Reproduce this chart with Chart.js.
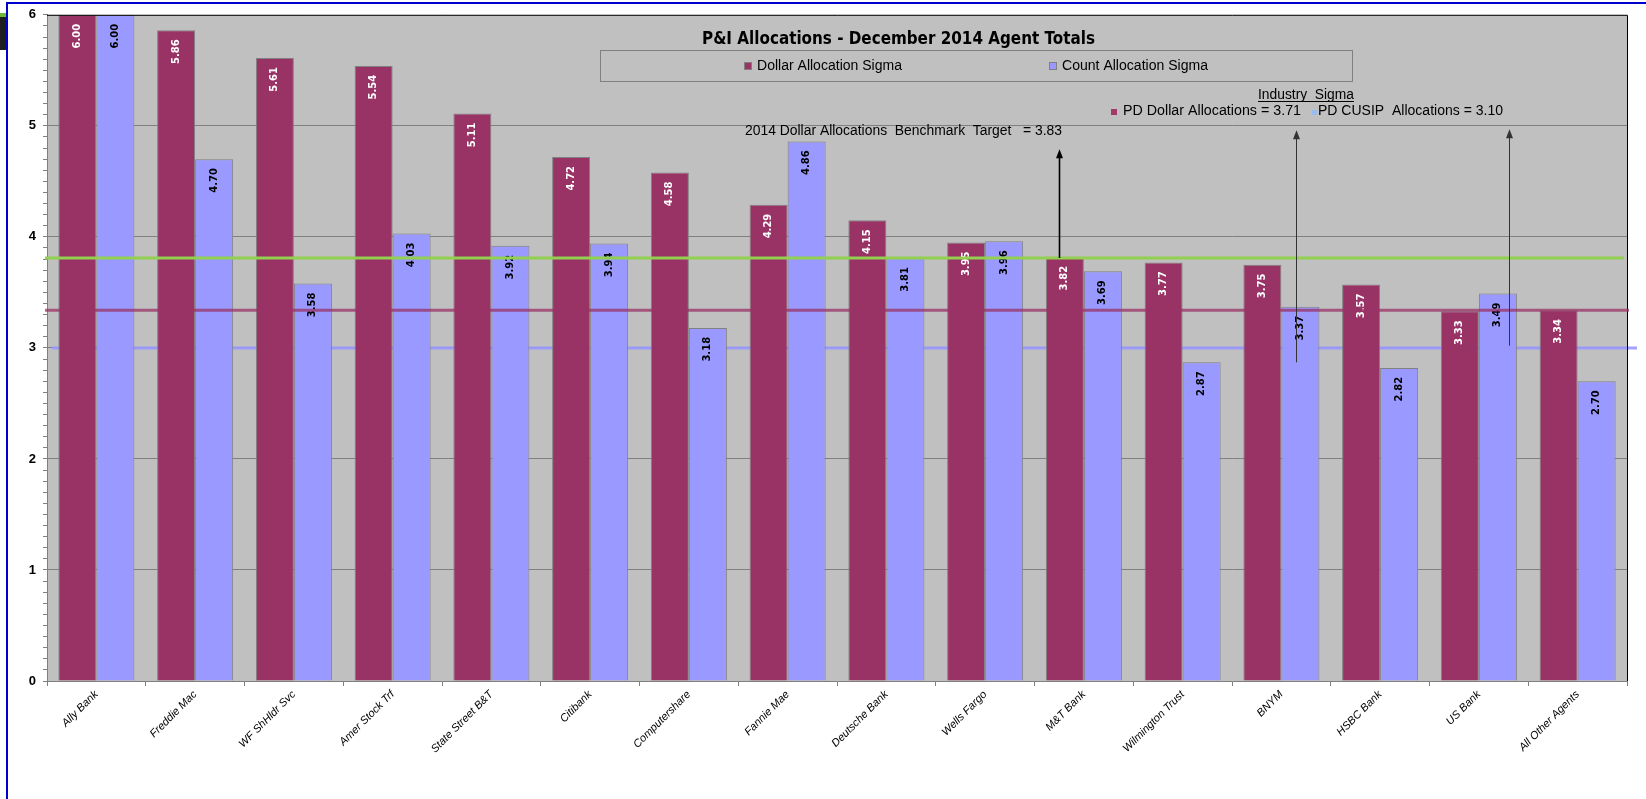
<!DOCTYPE html>
<html>
<head>
<meta charset="utf-8">
<title>P&amp;I Allocations - December 2014 Agent Totals</title>
<script src="https://cdn.jsdelivr.net/npm/chart.js@4.4.1/dist/chart.umd.min.js"></script>
<style>
  html, body { margin: 0; padding: 0; background: #fff; }
  canvas { display: block; }
</style>
</head>
<body>
<canvas id="chart" width="1646" height="799"></canvas>
<script>
const agents = ['Ally Bank', 'Freddie Mac', 'WF ShHldr Svc', 'Amer Stock Trf', 'State Street B&T', 'Citibank',
  'Computershare', 'Fannie Mae', 'Deutsche Bank', 'Wells Fargo', 'M&T Bank', 'Wilmington Trust', 'BNYM',
  'HSBC Bank', 'US Bank', 'All Other Agents'];
const dollarSigma = [6.00, 5.86, 5.61, 5.54, 5.11, 4.72, 4.58, 4.29, 4.15, 3.95, 3.82, 3.77, 3.75, 3.57, 3.33, 3.34];
const countSigma = [6.00, 4.70, 3.58, 4.03, 3.92, 3.94, 3.18, 4.86, 3.81, 3.96, 3.69, 2.87, 3.37, 2.82, 3.49, 2.70];

// level lines as they sit on the plot
const benchmarkLevel = 3.81;
const pdDollarLevel = 3.34;
const pdCusipLevel = 3.00;

const titleText = 'P&I Allocations - December 2014 Agent Totals';
const benchmarkText = '2014 Dollar Allocations  Benchmark  Target   = 3.83';
const industryTitle = 'Industry  Sigma';
const pdDollarText = 'PD Dollar Allocations = 3.71';
const pdCusipText = 'PD CUSIP  Allocations = 3.10';

const DOLLAR = '#993366';
const COUNT = '#9999ff';

Chart.defaults.font.family = "'Liberation Sans', Arial, sans-serif";

const isWhole = v => Math.abs(v - Math.round(v)) < 1e-6;

// draws text squeezed/stretched to a given width (the source font is a narrow one)
function fitText(ctx, text, x, y, w, font, color) {
  ctx.save();
  ctx.font = font;
  ctx.fillStyle = color || '#000';
  ctx.textAlign = 'left';
  ctx.textBaseline = 'middle';
  const m = ctx.measureText(text).width;
  ctx.translate(x, y);
  ctx.scale(w / m, 1);
  ctx.fillText(text, 0, 0);
  ctx.restore();
}

const refLines = [
  { value: pdCusipLevel, color: 'rgba(153,153,255,0.9)', width: 3, from: 5, to: 10, front: false },
  { value: pdDollarLevel, color: 'rgba(153,51,102,0.75)', width: 3, from: -2, to: 2, front: true },
  { value: benchmarkLevel, color: '#92d050', width: 3, from: -2, to: -3, front: true }
];

// arrows: category position, value at tail, value at head
const arrows = [
  { at: 9.75, from: benchmarkLevel, to: 4.79, color: '#000', width: 1.6 },
  { at: 12.15, from: 2.87, to: 4.96, color: '#333', width: 1 },
  { at: 14.30, from: 3.02, to: 4.97, color: '#333', width: 1 }
];

function drawLines(chart, front) {
  const { ctx, chartArea: a } = chart;
  const y = chart.scales.y;
  ctx.save();
  refLines.filter(l => l.front === front).forEach(l => {
    const py = y.getPixelForValue(l.value);
    ctx.strokeStyle = l.color;
    ctx.lineWidth = l.width;
    ctx.beginPath();
    ctx.moveTo(a.left + l.from, py);
    ctx.lineTo(a.right + l.to, py);
    ctx.stroke();
  });
  ctx.restore();
}

const allocDecor = {
  id: 'allocDecor',
  beforeDraw(chart) {
    const { ctx, chartArea: a, width, height } = chart;
    ctx.save();
    ctx.fillStyle = '#fff';
    ctx.fillRect(0, 0, width, height);
    ctx.fillStyle = '#c0c0c0';
    ctx.fillRect(a.left, a.top, a.right - a.left, a.bottom - a.top);
    // frame of the screenshot
    ctx.fillStyle = '#0000cc';
    ctx.fillRect(6, 2, width - 6, 2);
    ctx.fillRect(6, 2, 2, height);
    ctx.fillStyle = '#1e1e1e';
    ctx.fillRect(0, 13, 6, 37);
    ctx.fillStyle = '#6fb83a';
    ctx.fillRect(0, 13, 6, 4);
    ctx.restore();
  },
  beforeDatasetsDraw(chart) {
    drawLines(chart, false);
  },
  afterDatasetsDraw(chart) {
    const { ctx, chartArea: a } = chart;
    ctx.save();
    ctx.font = "bold 10px 'DejaVu Sans', Verdana, sans-serif";
    ctx.textAlign = 'right';
    ctx.textBaseline = 'middle';
    chart.data.datasets.forEach((ds, i) => {
      chart.getDatasetMeta(i).data.forEach((bar, j) => {
        ctx.save();
        ctx.translate(bar.x, bar.y + 9);
        ctx.rotate(-Math.PI / 2);
        ctx.fillStyle = ds.labelColor;
        ctx.fillText(ds.data[j].toFixed(2), 0, 0);
        ctx.restore();
      });
    });
    // plot border, top and right
    ctx.strokeStyle = '#000';
    ctx.lineWidth = 1;
    ctx.beginPath();
    ctx.moveTo(a.left, a.top + 0.5);
    ctx.lineTo(a.right + 0.5, a.top + 0.5);
    ctx.lineTo(a.right + 0.5, a.bottom);
    ctx.stroke();
    ctx.restore();
    drawLines(chart, true);
  },
  afterDraw(chart) {
    const { ctx } = chart;
    const x = chart.scales.x, y = chart.scales.y;
    ctx.save();
    arrows.forEach(ar => {
      const px = Math.round(x.getPixelForValue(ar.at)) + 0.5;
      const y0 = y.getPixelForValue(ar.from), y1 = y.getPixelForValue(ar.to);
      ctx.strokeStyle = ar.color;
      ctx.fillStyle = ar.color;
      ctx.lineWidth = ar.width;
      ctx.beginPath();
      ctx.moveTo(px, y0);
      ctx.lineTo(px, y1 + 6);
      ctx.stroke();
      ctx.beginPath();
      ctx.moveTo(px, y1);
      ctx.lineTo(px - 3.5, y1 + 9);
      ctx.lineTo(px + 3.5, y1 + 9);
      ctx.closePath();
      ctx.fill();
    });

    // title
    fitText(ctx, titleText, 702, 39.5, 393, 'bold 18px Tahoma, "DejaVu Sans", sans-serif');

    // legend box
    ctx.strokeStyle = '#808080';
    ctx.lineWidth = 1;
    ctx.strokeRect(600.5, 50.5, 752, 31);
    const ds = chart.data.datasets;
    const legendItems = [
      { x: 744, tx: 757, w: 145 },
      { x: 1049, tx: 1062, w: 146 }
    ];
    legendItems.forEach((it, i) => {
      ctx.fillStyle = ds[i].backgroundColor;
      ctx.fillRect(it.x, 62, 8, 8);
      ctx.strokeStyle = '#808080';
      ctx.strokeRect(it.x + 0.5, 62.5, 7, 7);
      fitText(ctx, ds[i].label, it.tx, 66, it.w, '14px "Liberation Sans", Arial, sans-serif');
    });

    // industry sigma note
    fitText(ctx, industryTitle, 1258, 95, 96, '14px "Liberation Sans", Arial, sans-serif');
    ctx.strokeStyle = '#000';
    ctx.beginPath();
    ctx.moveTo(1258, 101.5);
    ctx.lineTo(1354, 101.5);
    ctx.stroke();
    ctx.fillStyle = '#a3386c';
    ctx.fillRect(1111, 109, 6, 6);
    fitText(ctx, pdDollarText, 1123, 111, 178, '14px "Liberation Sans", Arial, sans-serif');
    ctx.fillStyle = '#99bbee';
    ctx.fillRect(1312, 110, 5, 5);
    fitText(ctx, pdCusipText, 1318, 111, 185, '14px "Liberation Sans", Arial, sans-serif');

    fitText(ctx, benchmarkText, 745, 131.5, 317, '14px "Liberation Sans", Arial, sans-serif');
    ctx.restore();
  }
};

new Chart(document.getElementById('chart'), {
  type: 'bar',
  data: {
    labels: agents,
    datasets: [
      { label: 'Dollar Allocation Sigma', data: dollarSigma, backgroundColor: DOLLAR, borderColor: '#808080', borderWidth: 1, labelColor: '#fff' },
      { label: 'Count Allocation Sigma', data: countSigma, backgroundColor: COUNT, borderColor: '#808080', borderWidth: 1, labelColor: '#000' }
    ]
  },
  options: {
    responsive: false,
    animation: false,
    layout: { padding: { top: 14, right: 19, left: 0, bottom: 0 } },
    datasets: { bar: { categoryPercentage: 0.77, barPercentage: 1.0 } },
    plugins: {
      legend: { display: false },
      title: { display: false },
      tooltip: { enabled: false }
    },
    scales: {
      x: {
        grid: { offset: true, drawOnChartArea: false, color: '#808080', tickLength: 5 },
        border: { color: '#808080' },
        ticks: {
          autoSkip: false, minRotation: 45, maxRotation: 45, padding: 2, color: '#000',
          font: { size: 11, style: 'italic' }
        },
        afterFit: s => { s.height = 118; }
      },
      y: {
        min: 0,
        max: 6,
        ticks: {
          stepSize: 0.1, autoSkip: false, padding: 7, color: '#000',
          font: { size: 13, weight: 'bold' },
          callback: v => isWhole(v) ? String(Math.round(v)) : ''
        },
        grid: {
          tickLength: 4,
          tickColor: '#808080',
          color: c => (isWhole(c.tick.value) && c.tick.value > 0.5 && c.tick.value < 5.5) ? '#808080' : 'rgba(0,0,0,0)'
        },
        border: { color: '#808080' },
        afterFit: s => { s.width = 47; }
      }
    }
  },
  plugins: [allocDecor]
});
</script>
</body>
</html>
